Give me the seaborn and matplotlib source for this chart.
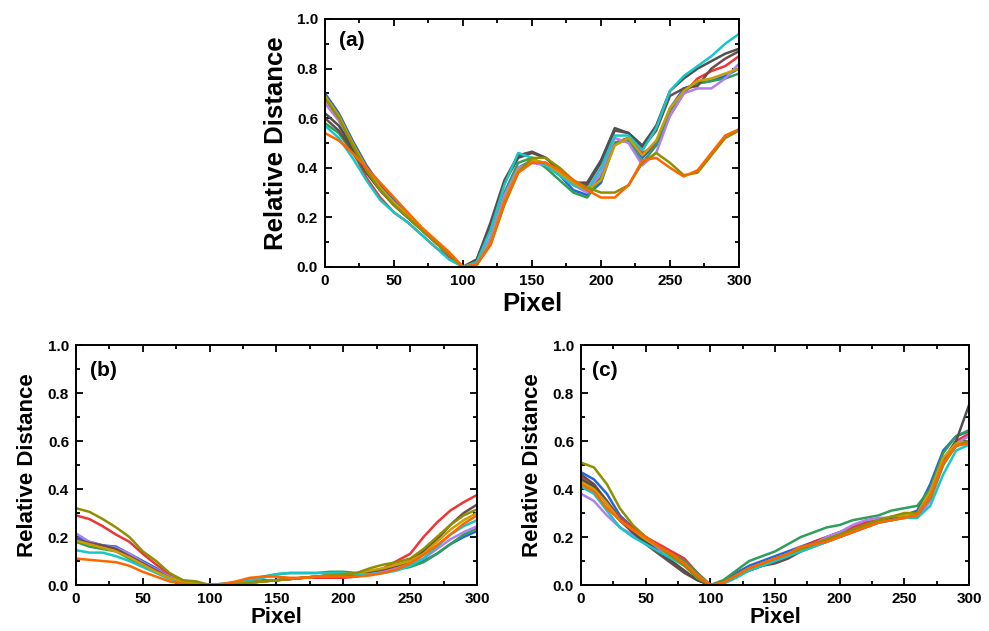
import numpy as np
import pandas as pd
import matplotlib
matplotlib.use("Agg")
import matplotlib.pyplot as plt
import seaborn as sns
from matplotlib.ticker import MultipleLocator

# ---------------- data ----------------
pixel = list(range(0, 301, 10))

colors = {
    "blue": "#1f66e0", "red": "#ee3535", "green": "#2e9e58", "purple": "#b07ff0",
    "brown": "#6d4b4b", "gray": "#4f4f4f", "cyan": "#17c6c9", "gold": "#c9a000",
    "olive": "#8f8f00", "orange": "#ff6600",
}

# panel (a)
a_blue   = [.70,.62,.51,.41,.33,.27,.21,.15,.10,.05,.00,.01,.10,.28,.40,.43,.41,.37,.31,.29,.34,.50,.52,.44,.50,.64,.72,.74,.75,.77,.80]
a_red    = [.68,.60,.47,.36,.28,.22,.18,.13,.08,.04,.00,.01,.10,.27,.39,.43,.42,.38,.34,.31,.36,.50,.52,.46,.49,.61,.70,.76,.79,.81,.85]
a_green  = [.58,.54,.46,.38,.31,.25,.20,.15,.10,.05,.00,.01,.12,.30,.42,.44,.40,.35,.30,.28,.36,.50,.51,.42,.49,.63,.71,.74,.75,.76,.78]
a_purple = [.66,.59,.49,.39,.31,.25,.20,.15,.10,.05,.00,.01,.12,.29,.40,.42,.41,.37,.33,.30,.38,.52,.50,.41,.46,.61,.70,.72,.72,.76,.82]
a_brown  = [.60,.55,.47,.38,.31,.25,.20,.15,.10,.05,.00,.03,.18,.35,.45,.465,.44,.39,.34,.33,.42,.55,.54,.48,.55,.69,.72,.73,.80,.84,.87]
a_gray   = [.62,.57,.48,.39,.31,.25,.20,.15,.10,.05,.00,.03,.17,.34,.44,.46,.44,.39,.34,.34,.43,.56,.54,.49,.57,.71,.76,.80,.83,.86,.88]
a_cyan   = [.57,.52,.44,.35,.27,.22,.18,.13,.08,.03,.00,.02,.15,.33,.46,.44,.41,.37,.33,.31,.40,.53,.53,.47,.56,.71,.77,.81,.85,.90,.94]
a_gold   = [.69,.61,.50,.40,.32,.26,.21,.15,.10,.05,.00,.01,.10,.27,.39,.43,.42,.38,.34,.31,.35,.49,.52,.45,.51,.64,.71,.75,.76,.78,.80]
a_olive  = [.68,.60,.49,.39,.31,.25,.20,.15,.10,.05,.00,.01,.09,.25,.38,.44,.44,.40,.35,.32,.30,.30,.33,.42,.46,.42,.37,.38,.45,.52,.55]
a_orange = [.54,.51,.46,.40,.34,.28,.22,.16,.11,.06,.00,.01,.09,.26,.38,.42,.42,.39,.35,.31,.28,.28,.33,.43,.44,.40,.365,.39,.46,.53,.555]

# panel (b)
b_blue   = [.20,.18,.165,.16,.13,.10,.07,.035,.015,.005,.00,.00,.005,.01,.015,.02,.025,.03,.035,.04,.045,.045,.05,.055,.065,.08,.10,.13,.17,.20,.225]
b_red    = [.29,.275,.245,.21,.18,.13,.085,.045,.015,.005,.00,.00,.01,.015,.02,.02,.025,.03,.03,.03,.03,.035,.05,.07,.10,.13,.20,.26,.31,.345,.375]
b_green  = [.18,.16,.15,.14,.11,.08,.055,.03,.015,.005,.00,.005,.01,.02,.035,.045,.05,.05,.05,.055,.055,.05,.05,.055,.065,.075,.095,.13,.17,.21,.235]
b_purple = [.215,.18,.165,.155,.13,.095,.065,.035,.015,.005,.00,.00,.005,.01,.015,.02,.025,.03,.035,.04,.045,.045,.05,.06,.07,.09,.11,.15,.19,.22,.245]
b_brown  = [.19,.175,.165,.15,.12,.09,.06,.03,.015,.005,.00,.00,.005,.01,.015,.02,.025,.03,.035,.04,.04,.045,.055,.065,.08,.10,.14,.19,.25,.30,.335]
b_cyan   = [.145,.135,.135,.12,.10,.075,.05,.025,.01,.005,.00,.005,.01,.02,.03,.045,.05,.05,.05,.05,.05,.045,.045,.05,.06,.08,.11,.16,.21,.245,.27]
b_gold   = [.185,.17,.155,.14,.115,.085,.055,.03,.015,.005,.00,.00,.005,.01,.015,.02,.025,.03,.035,.04,.045,.05,.06,.07,.085,.10,.13,.18,.23,.27,.30]
b_olive  = [.32,.305,.275,.24,.20,.14,.10,.05,.02,.015,.00,.00,.005,.01,.015,.02,.025,.03,.035,.04,.045,.05,.07,.085,.095,.11,.15,.20,.25,.29,.315]
b_orange = [.11,.105,.10,.095,.08,.055,.035,.015,.005,.00,.00,.005,.015,.03,.035,.035,.03,.03,.035,.035,.035,.035,.04,.05,.065,.09,.125,.165,.21,.255,.29]

# panel (c)
c_blue   = [.47,.44,.38,.29,.24,.20,.16,.13,.09,.04,.00,.01,.05,.08,.10,.12,.14,.16,.18,.20,.22,.24,.26,.27,.28,.29,.31,.42,.56,.62,.64]
c_red    = [.45,.41,.35,.28,.24,.20,.17,.14,.11,.05,.00,.01,.04,.07,.09,.11,.13,.15,.18,.20,.22,.24,.26,.27,.28,.28,.29,.38,.52,.60,.63]
c_green  = [.44,.41,.34,.27,.23,.19,.16,.13,.10,.05,.00,.02,.06,.10,.12,.14,.17,.20,.22,.24,.25,.27,.28,.29,.31,.32,.33,.40,.55,.62,.645]
c_purple = [.38,.35,.29,.24,.21,.18,.15,.12,.08,.04,.00,.01,.04,.07,.09,.11,.13,.15,.17,.20,.22,.25,.27,.28,.28,.28,.28,.35,.50,.59,.62]
c_brown  = [.46,.42,.35,.27,.22,.17,.13,.09,.05,.02,.00,.01,.04,.06,.08,.09,.11,.14,.16,.18,.20,.22,.24,.26,.27,.28,.29,.37,.51,.58,.60]
c_gray   = [.44,.41,.34,.27,.22,.18,.14,.10,.06,.02,.00,.01,.04,.06,.08,.10,.12,.14,.17,.19,.21,.23,.25,.27,.28,.29,.30,.38,.52,.60,.75]
c_cyan   = [.41,.38,.31,.24,.20,.17,.14,.11,.08,.03,.00,.005,.03,.06,.08,.10,.12,.14,.16,.18,.20,.22,.24,.26,.27,.28,.28,.33,.46,.56,.585]
c_gold   = [.43,.40,.34,.27,.23,.19,.16,.12,.09,.04,.00,.01,.04,.07,.09,.11,.13,.15,.17,.19,.21,.23,.25,.27,.285,.29,.30,.39,.53,.59,.60]
c_olive  = [.51,.49,.42,.32,.25,.20,.16,.12,.08,.03,.00,.01,.04,.07,.09,.11,.13,.15,.17,.19,.21,.23,.25,.27,.285,.30,.30,.36,.50,.58,.60]
c_orange = [.42,.39,.32,.27,.23,.20,.16,.13,.09,.04,.00,.01,.04,.07,.09,.11,.13,.16,.17,.18,.20,.22,.24,.26,.27,.28,.29,.37,.51,.58,.59]

panel_a = {"blue": a_blue, "red": a_red, "green": a_green, "purple": a_purple, "brown": a_brown,
           "gray": a_gray, "cyan": a_cyan, "gold": a_gold, "olive": a_olive, "orange": a_orange}
panel_b = {"blue": b_blue, "red": b_red, "green": b_green, "purple": b_purple, "brown": b_brown,
           "cyan": b_cyan, "gold": b_gold, "olive": b_olive, "orange": b_orange}
panel_c = {"blue": c_blue, "red": c_red, "green": c_green, "purple": c_purple, "brown": c_brown,
           "gray": c_gray, "cyan": c_cyan, "gold": c_gold, "olive": c_olive, "orange": c_orange}

x_ticks = [0, 50, 100, 150, 200, 250, 300]
y_ticks = [0.0, 0.2, 0.4, 0.6, 0.8, 1.0]


def to_long(panel):
    rows = []
    for name, vals in panel.items():
        for xv, yv in zip(pixel, vals):
            rows.append((xv, yv, name))
    return pd.DataFrame(rows, columns=["Pixel", "Relative Distance", "series"])


# ---------------- style ----------------
sns.set_style("ticks")
plt.rcParams['font.family'] = ['Liberation Sans', 'DejaVu Sans']
plt.rcParams['font.weight'] = 'bold'
plt.rcParams['axes.labelweight'] = 'bold'
plt.rcParams['text.color'] = 'black'
plt.rcParams['axes.labelcolor'] = 'black'
plt.rcParams['xtick.color'] = 'black'
plt.rcParams['ytick.color'] = 'black'
plt.rcParams['axes.edgecolor'] = 'black'

fig = plt.figure(figsize=(9.89, 6.31), dpi=100)
ax_a = fig.add_axes([0.3286, 0.5769, 0.4186, 0.3930])
ax_b = fig.add_axes([0.0768, 0.0729, 0.4055, 0.3803])
ax_c = fig.add_axes([0.5875, 0.0729, 0.3923, 0.3803])


def draw(ax, panel, label, fs_label, lab_pos, ypad, xpad):
    df = to_long(panel)
    sns.lineplot(data=df, x="Pixel", y="Relative Distance", hue="series",
                 palette=colors, legend=False, ax=ax, estimator=None,
                 linewidth=1.8, sort=True)
    for ln in ax.get_lines():
        ln.set_solid_joinstyle('round')
        ln.set_solid_capstyle('round')
    ax.set_xlim(0, 300)
    ax.set_ylim(0, 1.0)
    ax.set_xticks(x_ticks)
    ax.set_yticks(y_ticks)
    ax.xaxis.set_minor_locator(MultipleLocator(25))
    ax.yaxis.set_minor_locator(MultipleLocator(0.1))
    ax.tick_params(which='both', direction='in', top=True, right=True, width=1.3,
                   color='black', labelcolor='black')
    ax.tick_params(which='major', length=5, labelsize=11, pad=5)
    ax.tick_params(which='minor', length=3)
    for t in ax.get_xticklabels() + ax.get_yticklabels():
        t.set_fontweight('bold')
    for s in ax.spines.values():
        s.set_linewidth(1.4)
        s.set_color('black')
    ax.set_xlabel("Pixel", fontsize=fs_label, fontweight='bold', labelpad=xpad, color='black')
    ax.set_ylabel("Relative Distance", fontsize=fs_label, fontweight='bold', labelpad=ypad, color='black')
    ax.text(lab_pos[0], lab_pos[1], label, transform=ax.transAxes, fontsize=15,
            fontweight='bold', va='center', ha='left', color='black')


draw(ax_a, panel_a, "(a)", 18.5, (0.035, 0.915), 6, 3)
draw(ax_b, panel_b, "(b)", 16, (0.035, 0.895), 7, 0.5)
draw(ax_c, panel_c, "(c)", 16, (0.028, 0.895), 7, 0.5)

fig.savefig("out.png", dpi=100)
